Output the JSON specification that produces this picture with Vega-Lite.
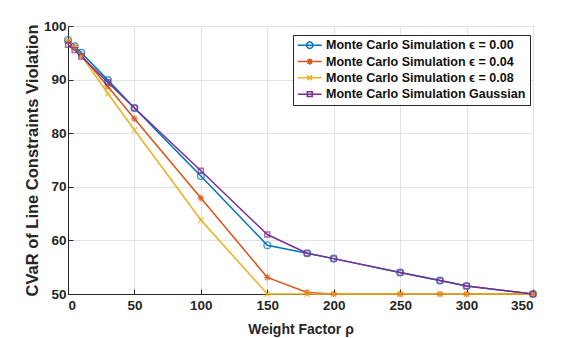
{
  "$schema": "https://vega.github.io/schema/vega-lite/v6.json",
  "width": 465,
  "height": 268,
  "autosize": {"type": "none"},
  "padding": {"left": 68, "top": 26, "right": 41, "bottom": 44},
  "background": "white",
  "config": {
    "font": "Liberation Sans",
    "view": {"stroke": "#262626", "strokeWidth": 1},
    "axis": {
      "labelFont": "Liberation Sans",
      "labelFontWeight": "bold",
      "labelFontSize": 13.5,
      "labelColor": "#262626",
      "titleFont": "Liberation Sans",
      "titleFontWeight": "bold",
      "titleColor": "#262626",
      "domainColor": "#262626",
      "tickColor": "#262626",
      "gridColor": "#e3e3e3",
      "gridWidth": 1
    }
  },
  "data": {
    "values": [
      {"series": "Monte Carlo Simulation ϵ = 0.00", "rho": 0, "cvar": 97.4},
      {"series": "Monte Carlo Simulation ϵ = 0.00", "rho": 5, "cvar": 96.2},
      {"series": "Monte Carlo Simulation ϵ = 0.00", "rho": 10, "cvar": 95.0},
      {"series": "Monte Carlo Simulation ϵ = 0.00", "rho": 30, "cvar": 89.9},
      {"series": "Monte Carlo Simulation ϵ = 0.00", "rho": 50, "cvar": 84.7},
      {"series": "Monte Carlo Simulation ϵ = 0.00", "rho": 100, "cvar": 72.0},
      {"series": "Monte Carlo Simulation ϵ = 0.00", "rho": 150, "cvar": 59.1},
      {"series": "Monte Carlo Simulation ϵ = 0.00", "rho": 180, "cvar": 57.6},
      {"series": "Monte Carlo Simulation ϵ = 0.00", "rho": 200, "cvar": 56.6},
      {"series": "Monte Carlo Simulation ϵ = 0.00", "rho": 250, "cvar": 54.0},
      {"series": "Monte Carlo Simulation ϵ = 0.00", "rho": 280, "cvar": 52.5},
      {"series": "Monte Carlo Simulation ϵ = 0.00", "rho": 300, "cvar": 51.5},
      {"series": "Monte Carlo Simulation ϵ = 0.00", "rho": 350, "cvar": 50.0},
      {"series": "Monte Carlo Simulation ϵ = 0.04", "rho": 0, "cvar": 97.1},
      {"series": "Monte Carlo Simulation ϵ = 0.04", "rho": 5, "cvar": 96.0},
      {"series": "Monte Carlo Simulation ϵ = 0.04", "rho": 10, "cvar": 94.6},
      {"series": "Monte Carlo Simulation ϵ = 0.04", "rho": 30, "cvar": 88.7},
      {"series": "Monte Carlo Simulation ϵ = 0.04", "rho": 50, "cvar": 82.7},
      {"series": "Monte Carlo Simulation ϵ = 0.04", "rho": 100, "cvar": 67.9},
      {"series": "Monte Carlo Simulation ϵ = 0.04", "rho": 150, "cvar": 53.1},
      {"series": "Monte Carlo Simulation ϵ = 0.04", "rho": 180, "cvar": 50.3},
      {"series": "Monte Carlo Simulation ϵ = 0.04", "rho": 200, "cvar": 50.0},
      {"series": "Monte Carlo Simulation ϵ = 0.04", "rho": 250, "cvar": 50.0},
      {"series": "Monte Carlo Simulation ϵ = 0.04", "rho": 280, "cvar": 50.0},
      {"series": "Monte Carlo Simulation ϵ = 0.04", "rho": 300, "cvar": 50.0},
      {"series": "Monte Carlo Simulation ϵ = 0.04", "rho": 350, "cvar": 50.0},
      {"series": "Monte Carlo Simulation ϵ = 0.08", "rho": 0, "cvar": 97.3},
      {"series": "Monte Carlo Simulation ϵ = 0.08", "rho": 5, "cvar": 96.1},
      {"series": "Monte Carlo Simulation ϵ = 0.08", "rho": 10, "cvar": 94.5},
      {"series": "Monte Carlo Simulation ϵ = 0.08", "rho": 30, "cvar": 87.4},
      {"series": "Monte Carlo Simulation ϵ = 0.08", "rho": 50, "cvar": 80.6},
      {"series": "Monte Carlo Simulation ϵ = 0.08", "rho": 100, "cvar": 63.8},
      {"series": "Monte Carlo Simulation ϵ = 0.08", "rho": 150, "cvar": 50.0},
      {"series": "Monte Carlo Simulation ϵ = 0.08", "rho": 180, "cvar": 50.0},
      {"series": "Monte Carlo Simulation ϵ = 0.08", "rho": 200, "cvar": 50.0},
      {"series": "Monte Carlo Simulation ϵ = 0.08", "rho": 250, "cvar": 50.0},
      {"series": "Monte Carlo Simulation ϵ = 0.08", "rho": 280, "cvar": 50.0},
      {"series": "Monte Carlo Simulation ϵ = 0.08", "rho": 300, "cvar": 50.0},
      {"series": "Monte Carlo Simulation ϵ = 0.08", "rho": 350, "cvar": 50.0},
      {"series": "Monte Carlo Simulation Gaussian", "rho": 0, "cvar": 96.5},
      {"series": "Monte Carlo Simulation Gaussian", "rho": 5, "cvar": 95.5},
      {"series": "Monte Carlo Simulation Gaussian", "rho": 10, "cvar": 94.3},
      {"series": "Monte Carlo Simulation Gaussian", "rho": 30, "cvar": 89.5},
      {"series": "Monte Carlo Simulation Gaussian", "rho": 50, "cvar": 84.7},
      {"series": "Monte Carlo Simulation Gaussian", "rho": 100, "cvar": 73.0},
      {"series": "Monte Carlo Simulation Gaussian", "rho": 150, "cvar": 61.1},
      {"series": "Monte Carlo Simulation Gaussian", "rho": 180, "cvar": 57.6},
      {"series": "Monte Carlo Simulation Gaussian", "rho": 200, "cvar": 56.6},
      {"series": "Monte Carlo Simulation Gaussian", "rho": 250, "cvar": 54.0},
      {"series": "Monte Carlo Simulation Gaussian", "rho": 280, "cvar": 52.5},
      {"series": "Monte Carlo Simulation Gaussian", "rho": 300, "cvar": 51.5},
      {"series": "Monte Carlo Simulation Gaussian", "rho": 350, "cvar": 50.0}
    ]
  },
  "encoding": {
    "x": {
      "field": "rho", "type": "quantitative",
      "scale": {"domain": [0, 350], "nice": false},
      "axis": {"values": [0, 50, 100, 150, 200, 250, 300, 350], "title": "Weight Factor ρ", "titleFontSize": 14, "labelPadding": 9, "titlePadding": 11, "tickSize": -5}
    },
    "y": {
      "field": "cvar", "type": "quantitative",
      "scale": {"domain": [50, 100], "nice": false, "zero": false},
      "axis": {"values": [50, 60, 70, 80, 90, 100], "title": "CVaR of Line Constraints Violation", "titleFontSize": 16.5, "labelPadding": 7, "titlePadding": 3, "tickSize": -5}
    },
    "color": {
      "field": "series", "type": "nominal",
      "scale": {
        "domain": ["Monte Carlo Simulation ϵ = 0.00", "Monte Carlo Simulation ϵ = 0.04", "Monte Carlo Simulation ϵ = 0.08", "Monte Carlo Simulation Gaussian"],
        "range": ["#0072BD", "#D95319", "#EDB120", "#7E2F8E"]
      },
      "legend": {
        "orient": "none",
        "legendX": 225,
        "legendY": 9,
        "title": null,
        "fillColor": "white",
        "strokeColor": "#262626",
        "padding": 4,
        "labelFont": "Liberation Sans",
        "labelFontWeight": "bold",
        "labelFontSize": 12.5,
        "labelColor": "#111111",
        "labelLimit": 300,
        "symbolSize": 49,
        "symbolStrokeWidth": 1.5,
        "symbolOpacity": 1,
        "symbolOffset": 6.5,
        "labelOffset": 10,
        "rowPadding": 3.3,
        "encode": {
          "symbols": {
            "update": {
              "fill": {"value": "transparent"},
              "strokeWidth": {"value": 1.5}
            }
          }
        }
      }
    }
  },
  "layer": [
    {
      "mark": {"type": "line", "strokeWidth": 1.5},
      "encoding": {}
    },
    {
      "transform": [{"filter": "datum.series === 'Monte Carlo Simulation ϵ = 0.00'"}],
      "mark": {"type": "point", "filled": false, "strokeWidth": 1.4, "size": 45, "shape": "circle"},
      "encoding": {}
    },
    {
      "transform": [{"filter": "datum.series === 'Monte Carlo Simulation ϵ = 0.04'"}],
      "mark": {"type": "point", "filled": false, "strokeWidth": 1.4, "size": 45, "shape": "M-1,0L1,0M0,-1L0,1M-0.7,-0.7L0.7,0.7M-0.7,0.7L0.7,-0.7"},
      "encoding": {}
    },
    {
      "transform": [{"filter": "datum.series === 'Monte Carlo Simulation ϵ = 0.08'"}],
      "mark": {"type": "point", "filled": false, "strokeWidth": 1.4, "size": 45, "shape": "M-0.8,-0.8L0.8,0.8M-0.8,0.8L0.8,-0.8"},
      "encoding": {}
    },
    {
      "transform": [{"filter": "datum.series === 'Monte Carlo Simulation Gaussian'"}],
      "mark": {"type": "point", "filled": false, "strokeWidth": 1.4, "size": 45, "shape": "M-0.75,-0.75L0.75,-0.75L0.75,0.75L-0.75,0.75Z"},
      "encoding": {}
    },
    {
      "transform": [{"filter": "datum.rho < 0"}],
      "mark": {"type": "point", "filled": false, "strokeWidth": 1.5},
      "encoding": {
        "shape": {
          "field": "series", "type": "nominal",
          "scale": {
            "domain": ["Monte Carlo Simulation ϵ = 0.00", "Monte Carlo Simulation ϵ = 0.04", "Monte Carlo Simulation ϵ = 0.08", "Monte Carlo Simulation Gaussian"],
            "range": [
              "M-3.4,0L3.4,0M-0.9,0A0.9,0.9 0 1,0 0.9,0A0.9,0.9 0 1,0 -0.9,0",
              "M-3.4,0L3.4,0M0,-0.9L0,0.9M-0.65,-0.65L0.65,0.65M-0.65,0.65L0.65,-0.65",
              "M-3.4,0L3.4,0M-0.7,-0.7L0.7,0.7M-0.7,0.7L0.7,-0.7",
              "M-3.4,0L3.4,0M-0.7,-0.7L0.7,-0.7L0.7,0.7L-0.7,0.7Z"
            ]
          }
        }
      }
    }
  ]
}
